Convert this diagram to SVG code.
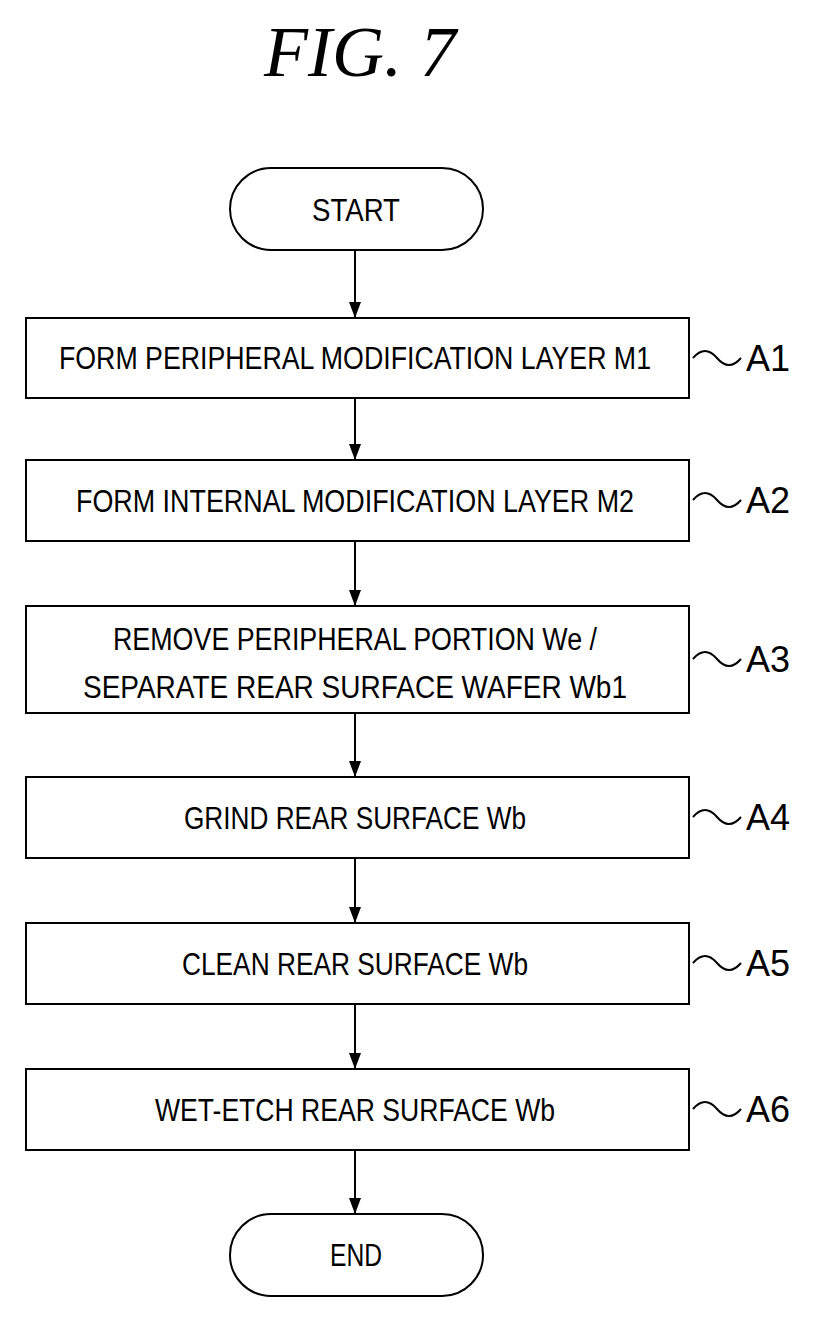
<svg xmlns="http://www.w3.org/2000/svg" width="822" height="1321" viewBox="0 0 822 1321">
<defs><marker id="ah" markerWidth="16" markerHeight="12" refX="16" refY="6" orient="auto" markerUnits="userSpaceOnUse"><path d="M0,0 L16,6 L0,12 Z" fill="#000"/></marker></defs>
<style>
.b{fill:#fff;stroke:#000;stroke-width:2}
.t{font-family:"Liberation Sans",Arial,sans-serif;font-size:31px;text-anchor:middle}
.l{font-family:"Liberation Sans",Arial,sans-serif;font-size:36px}
.c{stroke:#000;stroke-width:2;fill:none}
</style>
<rect width="822" height="1321" fill="#fff"/>
<text x="360" y="76" font-family="Liberation Serif,serif" font-style="italic" font-size="72" text-anchor="middle">FIG. 7</text>
<g id="start"><rect class="b" x="230" y="168" width="253" height="82" rx="41"/><text class="t" x="356" y="221" textLength="88" lengthAdjust="spacingAndGlyphs">START</text></g>
<g id="a1"><rect class="b" x="26" y="318" width="663" height="80"/><text class="t" x="355" y="369" textLength="592" lengthAdjust="spacingAndGlyphs">FORM PERIPHERAL MODIFICATION LAYER M1</text><path class="c" d="M693,358 q12,-14 24,0 t24,0"/><text class="l" x="746" y="371">A1</text></g>
<g id="a2"><rect class="b" x="26" y="460" width="663" height="81"/><text class="t" x="355" y="512" textLength="558" lengthAdjust="spacingAndGlyphs">FORM INTERNAL MODIFICATION LAYER M2</text><path class="c" d="M693,500 q12,-14 24,0 t24,0"/><text class="l" x="746" y="513">A2</text></g>
<g id="a3"><rect class="b" x="26" y="606" width="663" height="107"/><text class="t" x="355" y="650" textLength="484" lengthAdjust="spacingAndGlyphs">REMOVE PERIPHERAL PORTION We /</text><text class="t" x="355" y="698" textLength="544" lengthAdjust="spacingAndGlyphs">SEPARATE REAR SURFACE WAFER Wb1</text><path class="c" d="M693,659 q12,-14 24,0 t24,0"/><text class="l" x="746" y="672">A3</text></g>
<g id="a4"><rect class="b" x="26" y="777" width="663" height="81"/><text class="t" x="355" y="829" textLength="342" lengthAdjust="spacingAndGlyphs">GRIND REAR SURFACE Wb</text><path class="c" d="M693,817 q12,-14 24,0 t24,0"/><text class="l" x="746" y="830">A4</text></g>
<g id="a5"><rect class="b" x="26" y="923" width="663" height="81"/><text class="t" x="355" y="975" textLength="346" lengthAdjust="spacingAndGlyphs">CLEAN REAR SURFACE Wb</text><path class="c" d="M693,963 q12,-14 24,0 t24,0"/><text class="l" x="746" y="976">A5</text></g>
<g id="a6"><rect class="b" x="26" y="1069" width="663" height="81"/><text class="t" x="355" y="1121" textLength="400" lengthAdjust="spacingAndGlyphs">WET-ETCH REAR SURFACE Wb</text><path class="c" d="M693,1109 q12,-14 24,0 t24,0"/><text class="l" x="746" y="1122">A6</text></g>
<g id="end"><rect class="b" x="230" y="1214" width="253" height="82" rx="41"/><text class="t" x="356" y="1266" textLength="52" lengthAdjust="spacingAndGlyphs">END</text></g>
<g id="connectors" class="c" marker-end="url(#ah)">
<line x1="355" y1="250" x2="355" y2="318"/><line x1="355" y1="398" x2="355" y2="460"/><line x1="355" y1="541" x2="355" y2="606"/><line x1="355" y1="713" x2="355" y2="777"/><line x1="355" y1="858" x2="355" y2="923"/><line x1="355" y1="1004" x2="355" y2="1069"/><line x1="355" y1="1150" x2="355" y2="1214"/>
</g>
</svg>
